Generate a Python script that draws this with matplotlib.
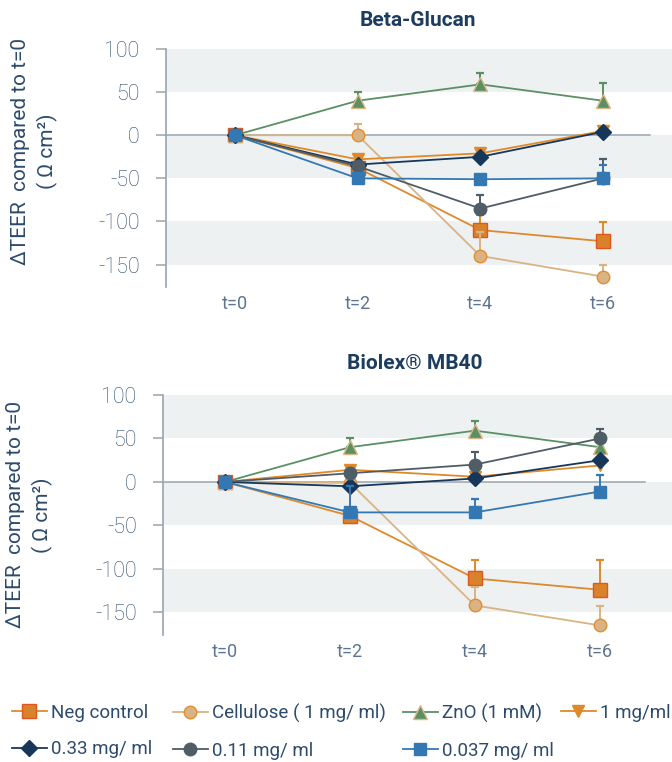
import numpy as np
import matplotlib
matplotlib.use("Agg")
import matplotlib.pyplot as plt

plt.rcParams['font.family'] = ['Roboto', 'DejaVu Sans']
plt.rcParams['axes.unicode_minus'] = False

timepoints = ["t=0", "t=2", "t=4", "t=6"]
series_names = ["Neg control", "Cellulose ( 1 mg/ ml)", "ZnO (1 mM)", "1 mg/ml",
                "0.33 mg/ ml", "0.11 mg/ ml", "0.037 mg/ ml"]

# Beta-Glucan panel
bg_neg = [0, -38, -110, -123]
bg_cell = [0, 0, -140, -164]
bg_zno = [0, 40, 59, 40]
bg_1 = [0, -28, -21, 5]
bg_033 = [0, -34, -25, 4]
bg_011 = [0, -36, -85, -50]
bg_0037 = [0, -50, -51, -50]
bg_neg_err = [np.nan, np.nan, 18, 22]
bg_cell_err = [np.nan, 13, 28, 14]
bg_zno_err = [np.nan, 10, 13, 21]
bg_1_err = [np.nan, 3, 3, np.nan]
bg_033_err = [np.nan, np.nan, np.nan, np.nan]
bg_011_err = [np.nan, np.nan, 16, 22]
bg_0037_err = [np.nan, np.nan, np.nan, 16]

# Biolex MB40 panel
mb_neg = [0, -39, -111, -124]
mb_cell = [0, -1, -142, -165]
mb_zno = [0, 40, 59, 40]
mb_1 = [0, 14, 6, 19]
mb_033 = [0, -5, 4, 25]
mb_011 = [0, 10, 20, 50]
mb_0037 = [0, -35, -35, -11]
mb_neg_err = [np.nan, np.nan, 21, 34]
mb_cell_err = [np.nan, np.nan, 21, 22]
mb_zno_err = [np.nan, 10, 11, np.nan]
mb_1_err = [np.nan, 3, 3, np.nan]
mb_033_err = [np.nan, np.nan, np.nan, np.nan]
mb_011_err = [np.nan, np.nan, 14, 11]
mb_0037_err = [np.nan, 30, 15, 19]

styles = [
    dict(color="#dd8a2e", marker="s", mfc="#d9822b", mec="#e0561f", ms=9.5),
    dict(color="#d9b384", marker="o", mfc="#d9b384", mec="#e38d2f", ms=9),
    dict(color="#5b8f64", marker="^", mfc="#5b8f64", mec="#dcb887", ms=10),
    dict(color="#e0892a", marker="v", mfc="#e0892a", mec="#e0892a", ms=9),
    dict(color="#17375a", marker="D", mfc="#17375a", mec="#17375a", ms=8.5),
    dict(color="#4f5d66", marker="o", mfc="#4f5d66", mec="#4f5d66", ms=9),
    dict(color="#3478b3", marker="s", mfc="#3478b3", mec="#3478b3", ms=9),
]

TXT = "#2c4b6c"
TITLE = "#1c3c60"
GRID = "#9aa4ad"
BAND = "#eef1f2"

fig = plt.figure(figsize=(6.72, 7.62), dpi=100)
W, H = 672.0, 762.0


def make_axes(left, right, top, bottom):
    return fig.add_axes([left / W, 1 - bottom / H, (right - left) / W, (bottom - top) / H])


def panel(ax, vals, errs, x0px, dxpx, leftpx, zero_end, label_xy):
    x = np.arange(len(timepoints))
    ax.set_ylim(-176, 100)
    ax.set_xlim(-(x0px - leftpx) / dxpx, (672 - x0px) / dxpx)
    for lo, hi in [(50, 100), (-50, 0), (-150, -100)]:
        ax.axhspan(lo, hi, color=BAND, lw=0, zorder=0)
    ax.axhline(0, xmin=0, xmax=zero_end, color=GRID, lw=1.1, zorder=1)
    handles = []
    for i, (v, e) in enumerate(zip(vals, errs)):
        st = styles[i]
        v = np.array(v, float)
        e = np.array(e, float)
        m = ~np.isnan(e)
        if m.any():
            ax.errorbar(x[m], v[m], yerr=[np.zeros(m.sum()), e[m]], fmt='none',
                        ecolor=st["color"], elinewidth=1.4, capsize=3, capthick=1.6,
                        zorder=2 + i)
        h, = ax.plot(x, v, color=st["color"], lw=1.3, marker=st["marker"],
                     mfc=st["mfc"], mec=st["mec"], ms=st["ms"], mew=1.0,
                     zorder=3 + i, label=series_names[i])
        handles.append(h)
    for s in ["top", "right", "bottom"]:
        ax.spines[s].set_visible(False)
    ax.spines["left"].set_color(GRID)
    ax.spines["left"].set_linewidth(1.2)
    ax.set_yticks([100, 50, 0, -50, -100, -150])
    ax.tick_params(axis="y", length=7, width=1.1, color=GRID, pad=12,
                   labelsize=15.5, labelcolor=TXT)
    ax.set_xticks(x)
    ax.set_xticklabels(timepoints)
    ax.tick_params(axis="x", length=0, pad=6, labelsize=13, labelcolor="#5d7590")
    for lab in ax.get_yticklabels():
        lab.set_fontweight("light")
    ax.set_ylabel("ΔTEER  compared to t=0\n( Ω cm²)", fontsize=15, color=TXT,
                  linespacing=1.45)
    ax.yaxis.set_label_coords(*label_xy)
    ax.set_facecolor("none")
    return handles


ax1 = make_axes(166, 672, 49, 287)
h1 = panel(ax1,
           [bg_neg, bg_cell, bg_zno, bg_1, bg_033, bg_011, bg_0037],
           [bg_neg_err, bg_cell_err, bg_zno_err, bg_1_err, bg_033_err, bg_011_err, bg_0037_err],
           235, 122.7, 166, 0.957, (-0.213, 0.57))
fig.text(418 / W, 1 - 21 / H, "Beta-Glucan", ha="center", va="center",
         fontsize=15, fontweight="bold", color=TITLE)

ax2 = make_axes(163, 672, 395, 635)
h2 = panel(ax2,
           [mb_neg, mb_cell, mb_zno, mb_1, mb_033, mb_011, mb_0037],
           [mb_neg_err, mb_cell_err, mb_zno_err, mb_1_err, mb_033_err, mb_011_err, mb_0037_err],
           225, 125, 163, 0.947, (-0.216, 0.5))
fig.text(415 / W, 1 - 363 / H, "Biolex® MB40", ha="center", va="center",
         fontsize=15, fontweight="bold", color=TITLE)

columns = [[0, 4], [1, 5], [2, 6], [3]]
col_x = [12, 173, 403, 561]
for idxs, cx in zip(columns, col_x):
    leg = fig.legend([h1[i] for i in idxs], [series_names[i] for i in idxs],
                     loc="upper left", bbox_to_anchor=(cx / W, 1 - 704 / H), ncol=1,
                     frameon=False, fontsize=13.5, handlelength=1.85, handletextpad=0.22,
                     labelspacing=0.98, borderpad=0, borderaxespad=0)
    for t in leg.get_texts():
        t.set_color(TXT)

fig.savefig("out.png", dpi=100)
